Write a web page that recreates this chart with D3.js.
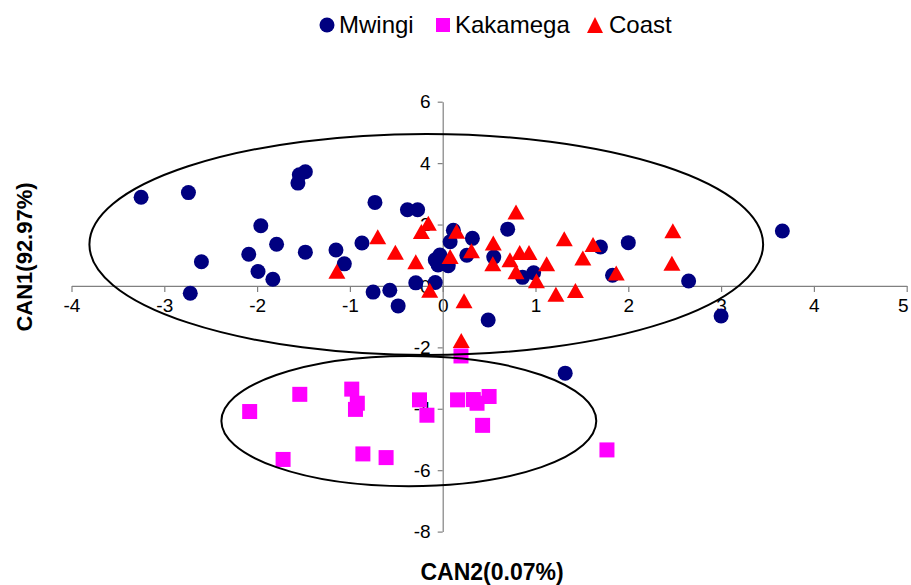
<!DOCTYPE html>
<html><head><meta charset="utf-8">
<script src="https://cdn.jsdelivr.net/npm/d3@7"></script>
<style>html,body{margin:0;padding:0;background:#fff;}svg{display:block;font-family:"Liberation Sans",Arial,sans-serif;}</style>
</head><body>
<svg id="c" width="911" height="585"></svg>
<script>
// Data (CAN2 = x, CAN1 = y)
const seriesNames = ["Mwingi", "Kakamega", "Coast"];
const mwingiX = [-3.25,-2.74,-1.48,-1.545,-1.56,-1.96,-1.79,-2.09,-1.48,-1.15,-2.60,-1.99,-1.83,-2.72,-1.06,-0.87,-0.73,-0.38,-0.27,-0.29,-0.08,-0.75,-0.57,-0.48,0.49,0.115,0.08,0.32,-0.03,-0.08,-0.05,0.06,0.26,0.55,0.70,0.86,0.98,1.70,2.00,1.83,2.65,3.00,3.66,1.32];
const mwingiY = [2.89,3.04,3.72,3.62,3.35,1.96,1.36,1.03,1.10,1.17,0.79,0.47,0.22,-0.24,0.72,1.40,2.72,2.48,2.48,0.10,0.11,-0.20,-0.14,-0.65,-1.11,1.81,1.44,1.55,1.01,0.85,0.68,0.66,1.00,0.94,1.85,0.28,0.43,1.27,1.41,0.35,0.16,-0.98,1.79,-2.84];
const kakamegaX = [-2.08,-1.54,-0.98,-0.92,-0.94,-0.25,-0.17,0.16,0.33,0.37,0.50,0.43,-1.72,-0.86,-0.61,1.77,0.197];
const kakamegaY = [-4.09,-3.53,-3.36,-3.82,-4.02,-3.71,-4.21,-3.71,-3.70,-3.82,-3.60,-4.54,-5.65,-5.47,-5.59,-5.34,-2.28];
const coastX = [-1.14,-0.70,-0.51,-0.29,-0.155,-0.23,-0.14,0.15,0.08,0.31,0.23,0.20,0.545,0.54,0.79,0.83,0.93,0.725,0.79,1.01,1.12,1.22,1.31,1.43,1.51,1.62,1.87,2.48,2.47];
const coastY = [0.48,1.60,1.10,0.79,2.04,1.77,-0.14,1.78,0.96,1.15,-0.48,-1.78,1.40,0.72,2.41,1.09,1.09,0.85,0.46,0.17,0.72,-0.27,1.54,-0.15,0.91,1.35,0.42,1.80,0.74];
const xTicks = [-4,-3,-2,-1,0,1,2,3,4,5];
const yTicks = [-8,-6,-4,-2,0,2,4,6];
// Group ellipses (data units): cx, cy, rx, ry
const ellipseCX = [-0.177, -0.365];
const ellipseCY = [1.35, -4.40];
const ellipseRX = [3.63, 2.02];
const ellipseRY = [3.60, 2.12];
const xTitle = "CAN2(0.07%)";
const yTitle = "CAN1(92.97%)";

const svg = d3.select("#c");
const x = d3.scaleLinear().domain([-4,5]).range([71.5,906.7]);
const y = d3.scaleLinear().domain([-8,6]).range([531.6,101.7]);
const axisColor = "#808080";

// axes crossing at origin
const xAxisG = svg.append("g").attr("transform",`translate(0,${y(0)})`)
  .call(d3.axisBottom(x).tickValues(xTicks).tickSize(6).tickSizeOuter(0));
const yAxisG = svg.append("g").attr("transform",`translate(${x(0)},0)`)
  .call(d3.axisLeft(y).tickValues(yTicks).tickSize(5).tickSizeOuter(0));
xAxisG.selectAll("text").text(d => String(d)).attr("font-size",19).attr("fill","#000").attr("y",13)
  .attr("font-family","Liberation Sans, Arial")
  .attr("dx", d => d === 5 ? -4 : 0);
yAxisG.selectAll("text").text(d => String(d)).attr("font-size",19).attr("fill","#000").attr("x",-12).attr("font-family","Liberation Sans, Arial");
[xAxisG,yAxisG].forEach(g=>{g.selectAll("path,line").attr("stroke",axisColor).attr("stroke-width",1.2);});

const mk = (xs,ys)=>xs.map((v,i)=>({x:v,y:ys[i]}));
// Mwingi circles
svg.append("g").selectAll("circle").data(mk(mwingiX,mwingiY)).join("circle")
  .attr("cx",d=>x(d.x)).attr("cy",d=>y(d.y)).attr("r",7.5).attr("fill","#000080");
// Kakamega squares
svg.append("g").selectAll("rect").data(mk(kakamegaX,kakamegaY)).join("rect")
  .attr("x",d=>x(d.x)-7.5).attr("y",d=>y(d.y)-7.5).attr("width",15).attr("height",15).attr("fill","#FF00FF");
// Coast triangles
const tri = (w,h)=>`M0,${-h/2}L${w/2},${h/2}L${-w/2},${h/2}Z`;
svg.append("g").selectAll("path").data(mk(coastX,coastY)).join("path")
  .attr("d",tri(17,15)).attr("transform",d=>`translate(${x(d.x)},${y(d.y)})`).attr("fill","#FF0000");

// ellipses on top
svg.append("g").selectAll("ellipse").data(ellipseCX.map((c,i)=>({cx:c,cy:ellipseCY[i],rx:ellipseRX[i],ry:ellipseRY[i]}))).join("ellipse")
  .attr("cx",d=>x(d.cx)).attr("cy",d=>y(d.cy))
  .attr("rx",d=>x(d.rx)-x(0)).attr("ry",d=>y(0)-y(d.ry))
  .attr("fill","none").attr("stroke","#000").attr("stroke-width",2);

// titles
svg.append("text").attr("x",492).attr("y",580).attr("text-anchor","middle")
  .attr("font-size",23).attr("font-weight","bold").text(xTitle);
svg.append("text").attr("transform","translate(32,257) rotate(-90)").attr("text-anchor","middle")
  .attr("font-size",22).attr("font-weight","bold").text(yTitle);

// legend
const lg = svg.append("g");
const legendX = [327, 443, 595];
const textX = [339, 455, 609];
lg.append("circle").attr("cx",legendX[0]).attr("cy",25).attr("r",7.5).attr("fill","#000080");
lg.append("rect").attr("x",legendX[1]-7).attr("y",18).attr("width",14).attr("height",14).attr("fill","#FF00FF");
lg.append("path").attr("d",tri(16,16)).attr("transform",`translate(${legendX[2]},25)`).attr("fill","#FF0000");
seriesNames.forEach((n,i)=>{
  lg.append("text").attr("x",textX[i]).attr("y",33).attr("font-size",24).attr("fill","#000").text(n);
});
</script>
</body></html>
